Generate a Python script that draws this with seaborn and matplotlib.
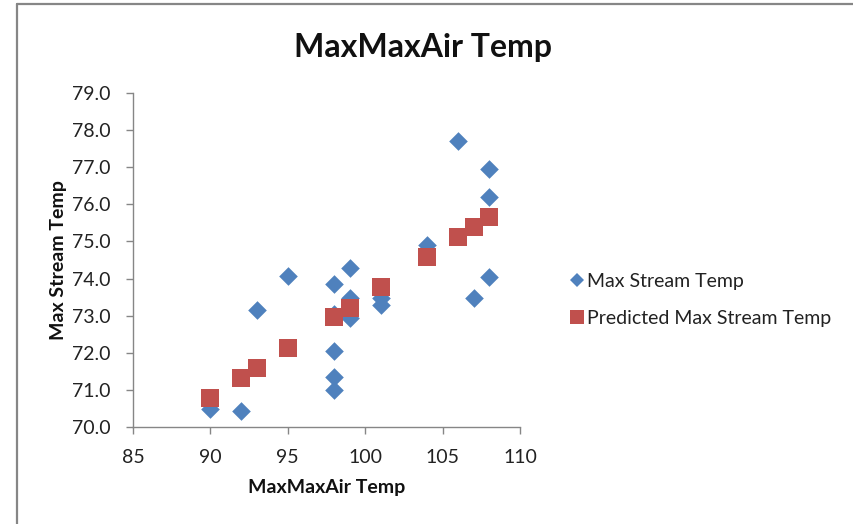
import matplotlib
matplotlib.use("Agg")
import matplotlib.pyplot as plt
from matplotlib.lines import Line2D
import seaborn as sns
import pandas as pd

# Data
air_temp = [90, 92, 93, 95, 98, 98, 98, 98, 98, 99, 99, 99, 101, 101, 104, 106, 107, 108, 108, 108]
stream_temp = [70.49, 70.43, 73.15, 74.08, 73.85, 73.05, 72.05, 71.35, 71.0, 74.28, 73.47, 72.95,
               73.47, 73.3, 74.9, 77.72, 73.48, 76.95, 76.2, 74.05]
pred_air = [90, 92, 93, 95, 98, 99, 101, 104, 106, 107, 108]
pred_stream = [70.77, 71.32, 71.6, 72.12, 72.96, 73.22, 73.77, 74.57, 75.12, 75.38, 75.66]

title = "MaxMaxAir Temp"
xlabel = "MaxMaxAir Temp"
ylabel = "Max Stream Temp"
series_names = ["Max Stream Temp", "Predicted Max Stream Temp"]
x_ticks = [85, 90, 95, 100, 105, 110]
y_ticks = [70, 71, 72, 73, 74, 75, 76, 77, 78, 79]

blue = "#4F81BD"
red = "#C0504D"

sns.set_theme(style="white")
plt.rcParams['font.family'] = ['Lato', 'DejaVu Sans']

df_obs = pd.DataFrame({"x": air_temp, "y": stream_temp})
df_pred = pd.DataFrame({"x": pred_air, "y": pred_stream})

fig = plt.figure(figsize=(8.54, 5.24), dpi=100)
ax = fig.add_axes([133/854, 1-427/524, (520-133)/854, (427-93)/524])

sns.scatterplot(data=df_obs, x="x", y="y", ax=ax, marker="D", s=90, color=blue,
                linewidth=0, legend=False)
sns.scatterplot(data=df_pred, x="x", y="y", ax=ax, marker="s", s=150, color=red,
                linewidth=0, legend=False)

ax.set_xlim(85, 110)
ax.set_ylim(70, 79)
ax.set_xticks(x_ticks)
ax.set_yticks(y_ticks)
ax.set_yticklabels([f"{v:.1f}" for v in y_ticks])

for side in ["top", "right"]:
    ax.spines[side].set_visible(False)
for side in ["left", "bottom"]:
    ax.spines[side].set_color("#868686")
    ax.spines[side].set_linewidth(1)

ax.tick_params(axis="both", which="major", direction="out", length=5, width=1,
               color="#868686", labelsize=14, labelcolor="#222222", left=True, bottom=True)
ax.tick_params(axis="y", pad=11)
ax.tick_params(axis="x", pad=11)

ax.set_xlabel(xlabel, fontsize=14, fontweight="bold", color="#111111")
ax.set_ylabel(ylabel, fontsize=14, fontweight="bold", color="#111111")
ax.xaxis.set_label_coords(0.5, -0.155)
ax.yaxis.set_label_coords(-0.17, 0.5)

fig.text(0.495, 1-47/524, title, ha="center", va="center", fontsize=23, fontweight="bold",
         color="#111111")

handles = [
    Line2D([], [], marker="D", linestyle="none", color=blue, markersize=7.5, markeredgewidth=0),
    Line2D([], [], marker="s", linestyle="none", color=red, markersize=9.5, markeredgewidth=0),
]
leg = fig.legend(handles, series_names, loc="center left",
                 bbox_to_anchor=(570/854, 1-300/524), frameon=False, fontsize=14,
                 handlelength=0.7, handletextpad=0.2, labelspacing=1.05, borderpad=0,
                 borderaxespad=0)
for t in leg.get_texts():
    t.set_color("#222222")

# Outer chart border (top and left visible)
fig.add_artist(Line2D([16.5/854, 16.5/854], [0, 1-4/524], transform=fig.transFigure,
                      color="#868686", linewidth=1.6))
fig.add_artist(Line2D([16.5/854, 1], [1-4/524, 1-4/524], transform=fig.transFigure,
                      color="#868686", linewidth=1.6))

fig.savefig("out.png", dpi=100)
